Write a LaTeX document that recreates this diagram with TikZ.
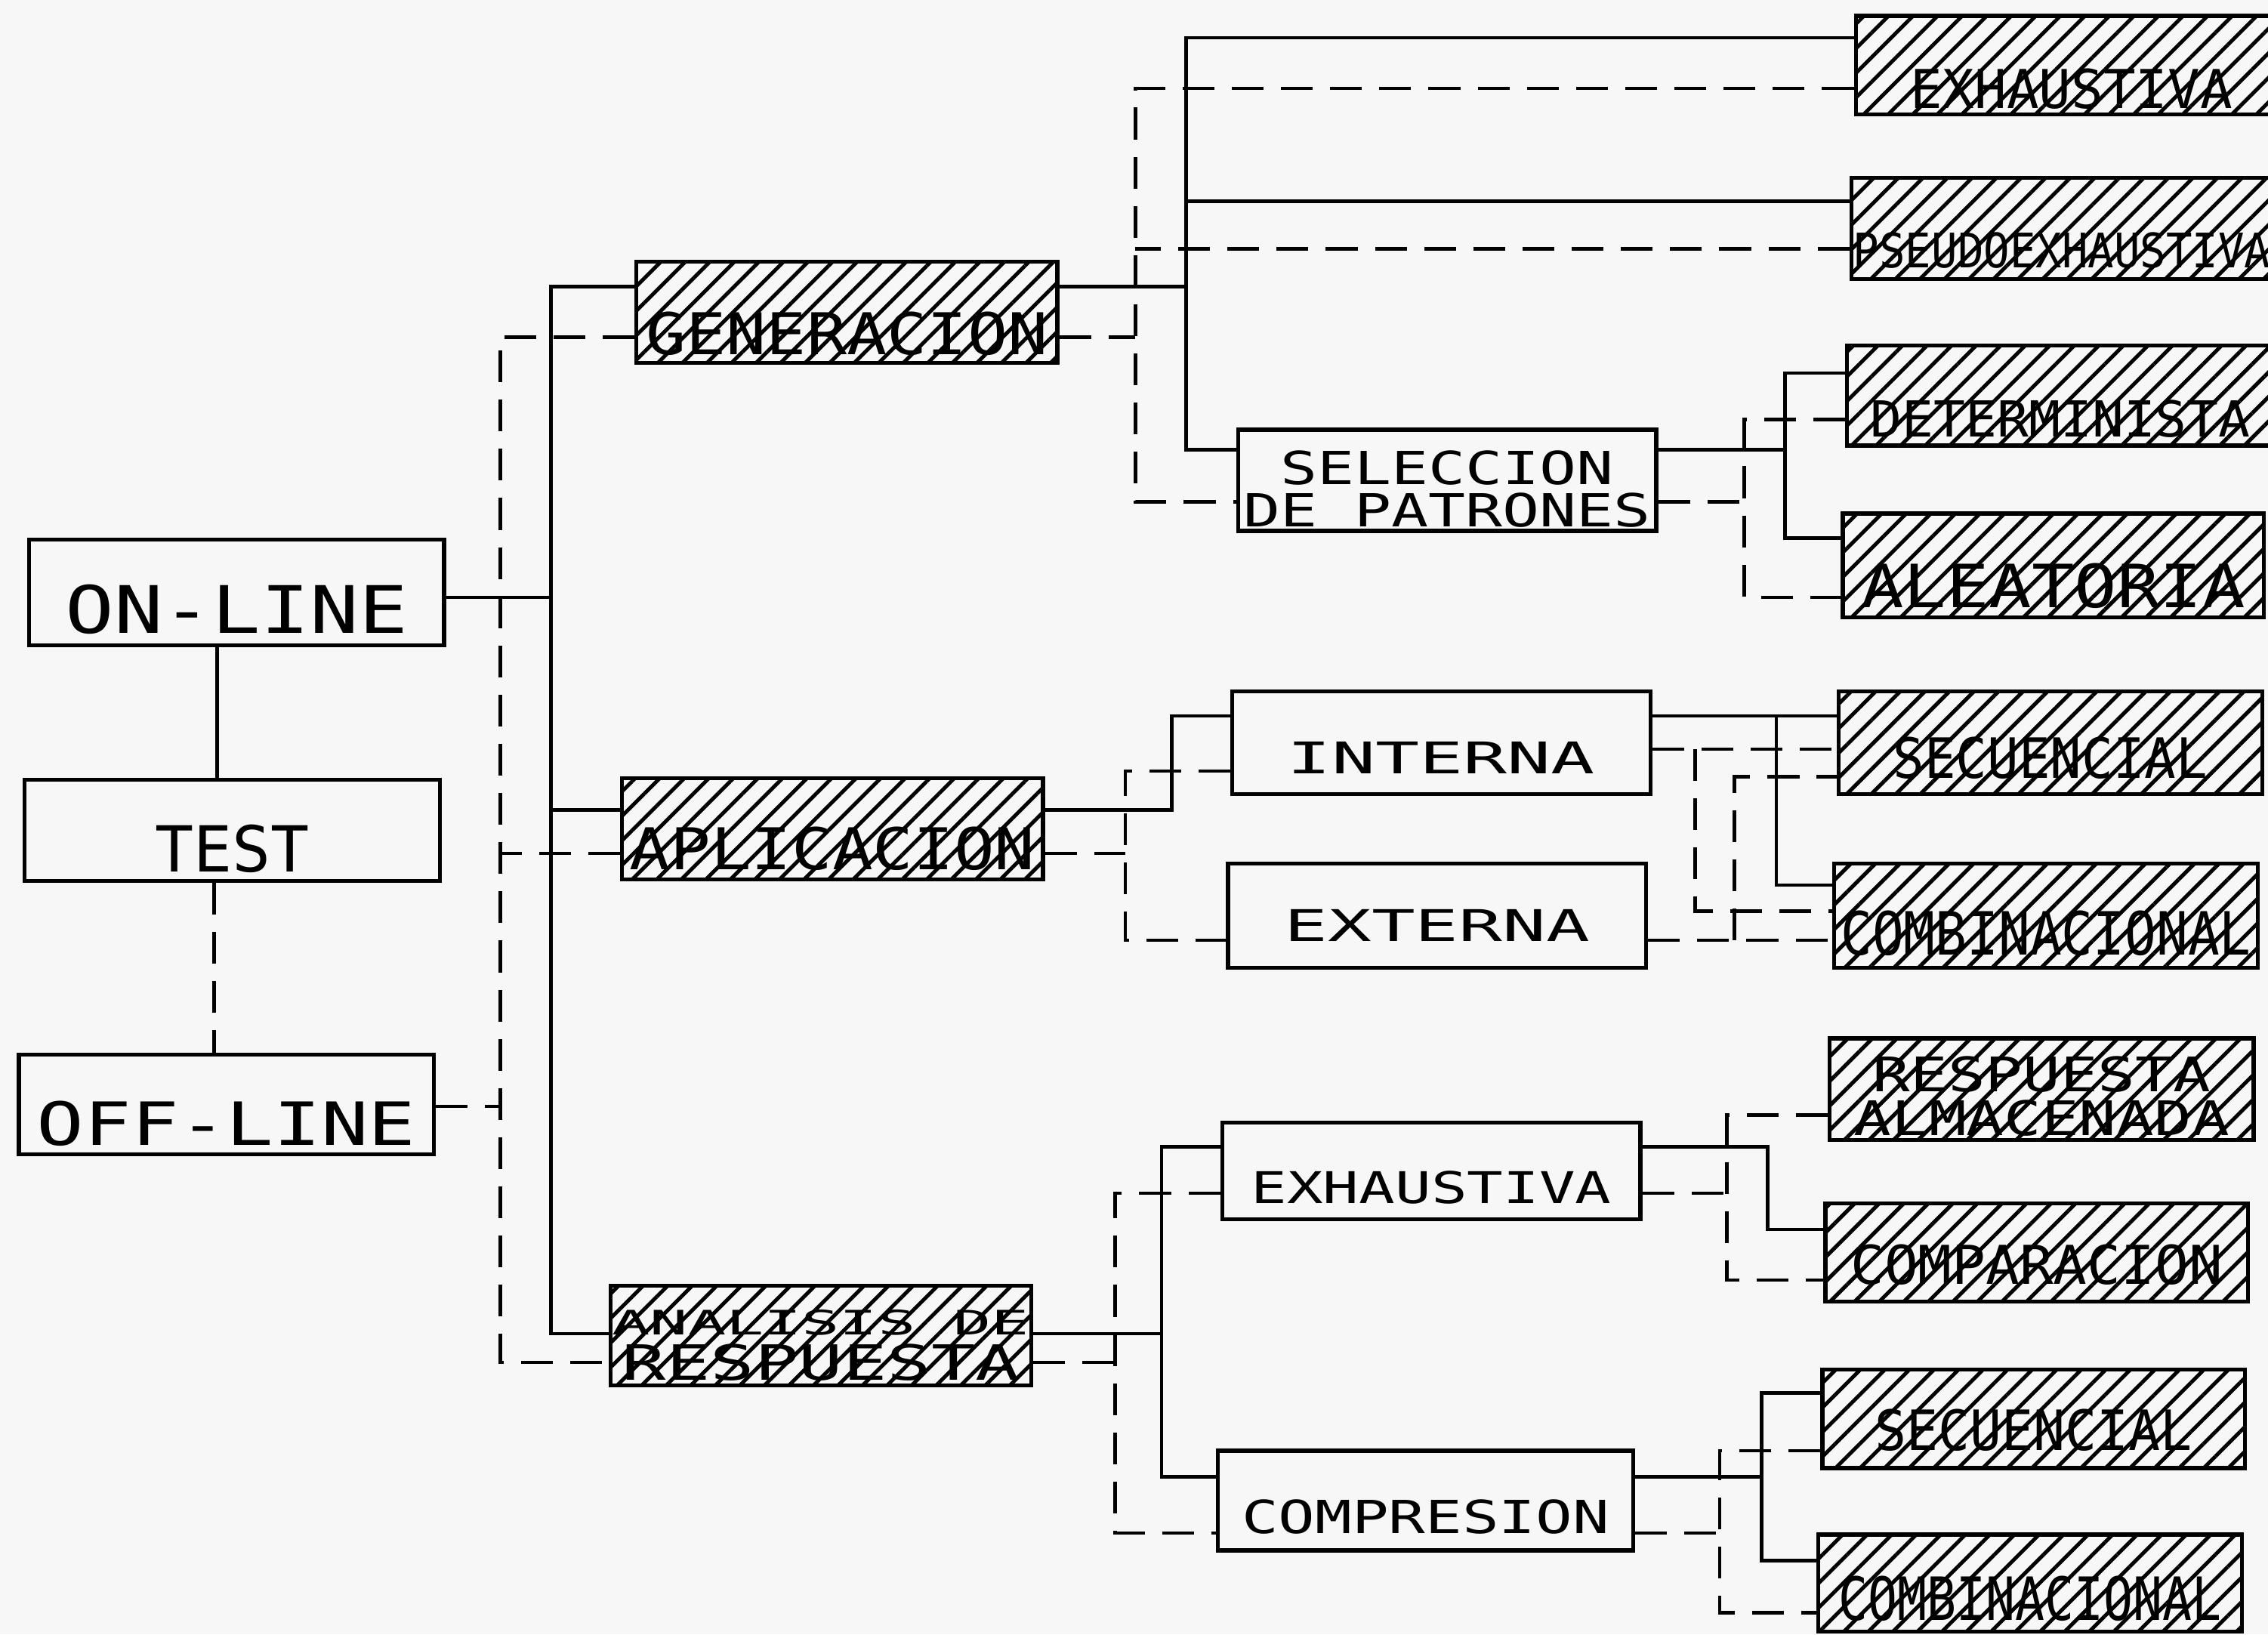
\documentclass[tikz,border=0pt]{standalone}
\usepackage{fontspec}
\usetikzlibrary{patterns.meta}

\newfontfamily\plotfont{DejaVu Sans Mono}
\definecolor{paper}{gray}{0.97}
\newcommand\pf[3]{\plotfont\fontsize{#1}{#3}\selectfont\addfontfeature{FakeStretch=#2}}
\newcommand\dline[3]{\vbox{\baselineskip=#1pt\lineskiplimit=-\maxdimen\halign{\hfil##\hfil\cr#2\cr#3\cr}}}

\begin{document}
\begin{tikzpicture}[
    x=1pt, y=-1pt,
    box/.style n args={3}{draw, line width=2.8pt, inner sep=0pt, minimum width=#1, minimum height=#2,
      text height=#2-#3, text depth=#3,
      execute at begin node={\hbox to 0pt\bgroup\hss}, execute at end node={\hss\egroup}},
    wbox/.style n args={3}{box={#1}{#2}{#3}, fill=paper},
    hatched/.style n args={3}{box={#1}{#2}{#3}, pattern={Lines[angle=45,distance=12pt,line width=2.6pt]}},
    sl/.style={line width=2.4pt},
    dl/.style={line width=2.4pt, dash pattern=on 22pt off 12pt}
  ]
    \useasboundingbox (0,0) rectangle (1568,1130);
    \fill[paper] (0,0) rectangle (1568,1130);
    \clip (0,0) rectangle (1568,1130);

    % left column
    \node[wbox={287}{73}{8}, font=\pf{45.3}{1.24}{45}] (on) at (163.5,409.5) {ON-LINE};
    \node[wbox={287}{70}{6}, font=\pf{43.9}{1.01}{44}] (test) at (160.5,574) {TEST};
    \node[wbox={287}{69}{6}, font=\pf{41.2}{1.32}{41}] (off) at (156.5,763.5) {OFF-LINE};

    % second column
    \node[hatched={291}{70}{6}, font=\pf{39.8}{1.16}{40}] (gen) at (585.5,216) {GENERACION};
    \node[hatched={291}{70}{7}, font=\pf{39.8}{1.17}{40}] (apl) at (575.5,573) {APLICACION};
    \node[hatched={291}{69}{4}] (ana) at (567.5,923.5)
      {\dline{31}{\pf{23.3}{1.87}{23}ANALISIS DE}{\pf{33.6}{1.51}{34}RESPUESTA}};

    % third column
    \node[wbox={289}{70}{3}, font=\pf{31.5}{1.35}{32}] (sel) at (1000.5,332) {\dline{29}{SELECCION}{DE PATRONES}};
    \node[wbox={289}{71}{14}, font=\pf{30.2}{1.67}{30}] (int) at (996.5,513.5) {INTERNA};
    \node[wbox={289}{72}{18}, font=\pf{30.2}{1.66}{30}] (ext) at (993.5,633) {EXTERNA};
    \node[wbox={289}{67}{11}, font=\pf{30.2}{1.37}{30}] (exb) at (989.5,809.5) {EXHAUSTIVA};
    \node[wbox={287}{69}{12}, font=\pf{31.5}{1.34}{32}] (cmp) at (985.5,1037.5) {COMPRESION};

    % last column
    \node[hatched={298}{68}{4}, font=\pf{37}{1.0}{37}] (exa) at (1432,45) {EXHAUSTIVA};
    \node[hatched={291}{70}{8}, font=\pf{32.9}{0.91}{33}] (pse) at (1425.5,158) {PSEUDOEXHAUSTIVA};
    \node[hatched={295}{69}{6}, font=\pf{34.3}{1.06}{34}] (det) at (1424.5,273.5) {DETERMINISTA};
    \node[hatched={291}{72}{7}, font=\pf{41.2}{1.19}{41}] (ale) at (1419.5,391) {ALEATORIA};
    \node[hatched={293}{71}{11}, font=\pf{38.4}{0.94}{38}] (sec1) at (1417.5,513.5) {SECUENCIAL};
    \node[hatched={293}{72}{9}, font=\pf{41.2}{0.88}{41}] (com1) at (1414.5,633) {COMBINACIONAL};
    \node[hatched={293}{70}{3}, font=\pf{32.9}{1.31}{33}] (ra) at (1411.5,753) {\dline{30}{RESPUESTA}{ALMACENADA}};
    \node[hatched={292}{68}{12}, font=\pf{37}{1.05}{37}] (cpr) at (1408,866) {COMPARACION};
    \node[hatched={292}{68}{12}, font=\pf{38.4}{0.95}{38}] (sec2) at (1406,981) {SECUENCIAL};
    \node[hatched={293}{67}{8}, font=\pf{41.2}{0.82}{41}] (com2) at (1403.5,1094.5) {COMBINACIONAL};

    % port heights and bus positions
    \foreach \p/\v in {on-s/413, off-d/765, gen-s/198, gen-d/233, apl-s/560, apl-d/590, ana-s/922, ana-d/942,
        exa-s/26, exa-d/61, pse-s/139, pse-d/172, sel-s/311, sel-d/347, det-s/258, det-d/290, ale-s/372, ale-d/413,
        int-s/495, int-dl/533, int-dr/518, ext-d/650, sec1-d/537, com1-s/612, com1-d/630,
        exb-s/793, exb-d/825, cmp-s/1021, cmp-d/1060, ra-d/771, cpr-s/850, cpr-d/885,
        sec2-s/963, sec2-d/1003, com2-s/1079, com2-d/1115}
      \coordinate (\p) at (0,\v);
    \foreach \b/\u in {v1/150, v2/148, b1s/381, b1d/346, b2s/820, b2d/785, b3s/1234, b3d/1206, b4s/810, b4d/778,
        b5s/1228, b5a/1172, b5b/1199, b6s/803, b6d/771, b7s/1222, b7d/1194, b8s/1218, b8d/1189}
      \coordinate (\b) at (\u,0);

    \draw[sl] (v1 |- on.south) -- (v1 |- test.north);
    \draw[dl] (v2 |- test.south) -- (v2 |- off.north);

    \draw[sl] (on.east |- on-s) -- (b1s |- on-s);
    \draw[sl] (gen.west |- gen-s) -| (b1s |- ana-s) -- (ana.west |- ana-s);
    \draw[sl] (apl.west |- apl-s) -- (b1s |- apl-s);
    \draw[dl] (off.east |- off-d) -- (b1d |- off-d);
    \draw[dl] (gen.west |- gen-d) -| (b1d |- ana-d) -- (ana.west |- ana-d);
    \draw[dl] (apl.west |- apl-d) -- (b1d |- apl-d);

    % generacion
    \draw[sl] (gen.east |- gen-s) -- (b2s |- gen-s);
    \draw[sl] (exa.west |- exa-s) -| (b2s |- sel-s) -- (sel.west |- sel-s);
    \draw[sl] (pse.west |- pse-s) -- (b2s |- pse-s);
    \draw[dl] (gen.east |- gen-d) -- (b2d |- gen-d);
    \draw[dl] (exa.west |- exa-d) -| (b2d |- sel-d) -- (sel.west |- sel-d);
    \draw[dl] (pse.west |- pse-d) -- (b2d |- pse-d);

    \draw[sl] (sel.east |- sel-s) -- (b3s |- sel-s);
    \draw[sl] (det.west |- det-s) -| (b3s |- ale-s) -- (ale.west |- ale-s);
    \draw[dl] (sel.east |- sel-d) -- (b3d |- sel-d);
    \draw[dl] (det.west |- det-d) -| (b3d |- ale-d) -- (ale.west |- ale-d);

    % aplicacion
    \draw[sl] (apl.east |- apl-s) -| (b4s |- int-s) -- (int.west |- int-s);
    \draw[dl] (apl.east |- apl-d) -- (b4d |- apl-d);
    \draw[dl] (int.west |- int-dl) -| (b4d |- ext-d) -- (ext.west |- ext-d);

    \draw[sl] (int.east |- int-s) -- (sec1.west |- int-s);
    \draw[sl] (b5s |- int-s) |- (com1.west |- com1-s);
    \draw[dl] (int.east |- int-dr) -- (sec1.west |- int-dr);
    \draw[dl] (b5a |- int-dr) |- (com1.west |- com1-d);
    \draw[dl] (ext.east |- ext-d) -- (com1.west |- ext-d);
    \draw[dl] (b5b |- ext-d) |- (sec1.west |- sec1-d);

    % analisis de respuesta
    \draw[sl] (ana.east |- ana-s) -- (b6s |- ana-s);
    \draw[sl] (exb.west |- exb-s) -| (b6s |- cmp-s) -- (cmp.west |- cmp-s);
    \draw[dl] (ana.east |- ana-d) -- (b6d |- ana-d);
    \draw[dl] (exb.west |- exb-d) -| (b6d |- cmp-d) -- (cmp.west |- cmp-d);

    \draw[sl] (exb.east |- exb-s) -| (b7s |- cpr-s) -- (cpr.west |- cpr-s);
    \draw[dl] (exb.east |- exb-d) -- (b7d |- exb-d);
    \draw[dl] (ra.west |- ra-d) -| (b7d |- cpr-d) -- (cpr.west |- cpr-d);

    \draw[sl] (cmp.east |- cmp-s) -- (b8s |- cmp-s);
    \draw[sl] (sec2.west |- sec2-s) -| (b8s |- com2-s) -- (com2.west |- com2-s);
    \draw[dl] (cmp.east |- cmp-d) -- (b8d |- cmp-d);
    \draw[dl] (sec2.west |- sec2-d) -| (b8d |- com2-d) -- (com2.west |- com2-d);
  \end{tikzpicture}
\end{document}
